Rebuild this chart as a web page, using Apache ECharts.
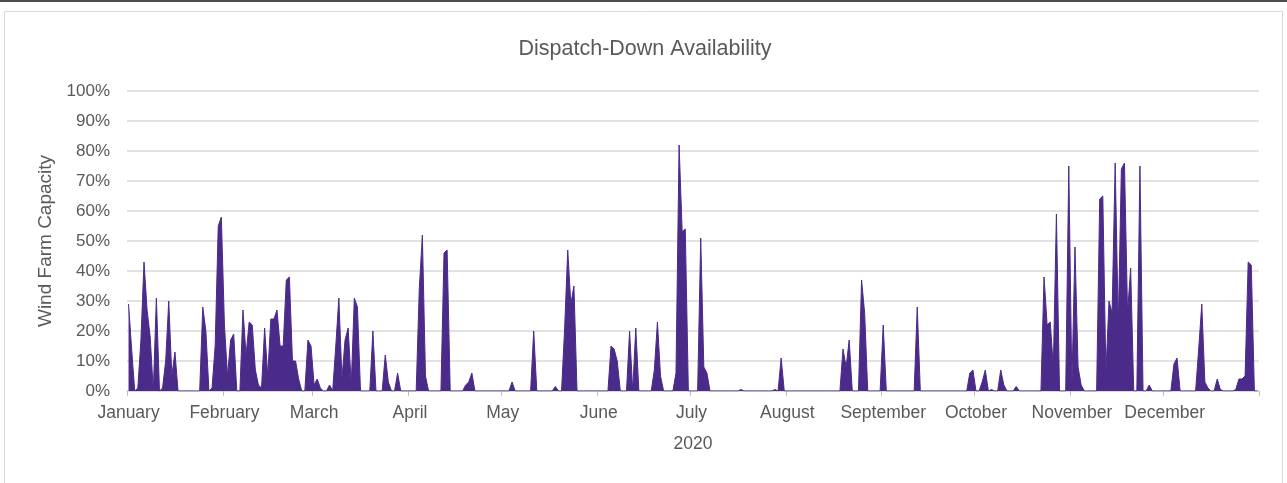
<!DOCTYPE html>
<html>
<head>
<meta charset="utf-8">
<title>Dispatch-Down Availability</title>
<script src="https://cdn.jsdelivr.net/npm/echarts@6/dist/echarts.min.js"></script>
<style>
  html, body { margin: 0; padding: 0; background: #fff; }
  #chart { width: 1287px; height: 483px; }
</style>
</head>
<body>
<div id="chart"></div>
<script>
// daily dispatch-down, % of wind farm capacity, 2020
const monthNames = ['January', 'February', 'March', 'April', 'May', 'June',
  'July', 'August', 'September', 'October', 'November', 'December'];

const jan = [29, 14, 0, 1, 17, 43, 27, 18, 0, 31, 0, 1, 10, 30, 5, 13, 0, 0, 0, 0, 0, 0, 0, 0, 28, 20, 0, 1, 15, 55, 58];
const feb = [22, 5, 17, 19, 0, 0, 27, 12, 23, 22, 7, 2, 1, 21, 5, 24, 24, 27, 15, 15, 37, 38, 10, 10, 4, 0, 0, 17, 15];
const mar = [2, 4, 1, 0, 0, 2, 0, 15, 31, 4, 17, 21, 2, 31, 28, 0, 0, 0, 0, 20, 0, 0, 0, 12, 3, 0, 0, 6, 0, 0, 0];
const apr = [0, 0, 0, 34, 52, 5, 0, 0, 0, 0, 0, 46, 47, 0, 0, 0, 0, 0, 2, 3, 6, 0, 0, 0, 0, 0, 0, 0, 0, 0];
const may = [0, 0, 0, 3, 0, 0, 0, 0, 0, 0, 20, 0, 0, 0, 0, 0, 0, 1.5, 0, 0, 21, 47, 29, 35, 0, 0, 0, 0, 0, 0, 0];
const jun = [0, 0, 0, 0, 15, 14, 10, 0, 0, 0, 20, 0, 21, 0, 0, 0, 0, 0, 7, 23, 5, 0, 0, 0, 0, 6, 82, 53, 54, 0];
const jul = [0, 0, 0, 51, 8, 6, 0, 0, 0, 0, 0, 0, 0, 0, 0, 0, 0.5, 0, 0, 0, 0, 0, 0, 0, 0, 0, 0, 0.5, 0, 11, 0];
const aug = [0, 0, 0, 0, 0, 0, 0, 0, 0, 0, 0, 0, 0, 0, 0, 0, 0, 0, 14, 8, 17, 0, 0, 0, 37, 26, 0, 0, 0, 0, 0];
const sep = [22, 0, 0, 0, 0, 0, 0, 0, 0, 0, 0, 28, 0, 0, 0, 0, 0, 0, 0, 0, 0, 0, 0, 0, 0, 0, 0, 0, 6, 7];
const oct = [0, 0, 3, 7, 0, 0.5, 0, 0, 7, 2, 0, 0, 0, 1.5, 0, 0, 0, 0, 0, 0, 0, 0, 38, 22, 23, 8, 59, 0, 0, 0, 75];
const nov = [2, 48, 8, 2, 0, 0, 0, 0, 0, 64, 65, 6, 30, 26, 76, 22, 74, 76, 26, 41, 0, 0, 75, 0, 0, 2, 0, 0, 0, 0];
const dec = [0, 0, 0, 9, 11, 0, 0, 0, 0, 0, 0, 14, 29, 3, 1, 0, 0, 4, 0.5, 0, 0, 0, 0, 0.5, 4, 4, 5, 43, 42, 0, 0];

const yTicks = [0, 10, 20, 30, 40, 50, 60, 70, 80, 90, 100];

const months = [jan, feb, mar, apr, may, jun, jul, aug, sep, oct, nov, dec];
const dates = [];
const values = [];
months.forEach((m, mi) => {
  m.forEach((v, di) => {
    const mm = String(mi + 1).padStart(2, '0');
    const dd = String(di + 1).padStart(2, '0');
    dates.push('2020-' + mm + '-' + dd);
    values.push(v);
  });
});

const isMonthStart = (idx, val) => val.slice(8) === '01';

const font = 'Liberation Sans, Arial, sans-serif';
const purple = '#4b2b89';

const myChart = echarts.init(document.getElementById('chart'));

const option = {
  animation: false,
  title: {
    text: 'Dispatch-Down Availability',
    left: 640,
    textAlign: 'center',
    top: 33,
    textStyle: { fontFamily: font, fontSize: 21.5, fontWeight: 'normal', color: '#595959' },
  },
  graphic: [
    {
      type: 'rect',
      shape: { x: 4.5, y: 11.5, width: 1278, height: 480 },
      style: { fill: 'none', stroke: '#d9d9d9', lineWidth: 1 },
      silent: true,
    },
    {
      type: 'line',
      shape: { x1: 0, y1: 1, x2: 1287, y2: 1 },
      style: { stroke: '#4d4d4d', lineWidth: 2 },
      silent: true,
    },
  ],
  grid: { left: 127, right: 28, top: 91, bottom: 92 },
  xAxis: {
    type: 'category',
    data: dates,
    boundaryGap: true,
    name: '2020',
    nameLocation: 'middle',
    nameGap: 44,
    nameTextStyle: { fontFamily: font, fontSize: 17.5, color: '#595959' },
    axisLine: { lineStyle: { color: '#d9d9d9', width: 1.5 } },
    axisTick: { show: true, interval: isMonthStart, length: 5, lineStyle: { color: '#bfbfbf' } },
    axisLabel: {
      interval: isMonthStart,
      margin: 13,
      fontFamily: font,
      fontSize: 17.5,
      color: '#595959',
      formatter: (val) => monthNames[parseInt(val.slice(5, 7), 10) - 1],
    },
    splitLine: { show: false },
  },
  yAxis: {
    type: 'value',
    min: yTicks[0],
    max: yTicks[yTicks.length - 1],
    interval: yTicks[1] - yTicks[0],
    name: 'Wind Farm Capacity',
    nameLocation: 'middle',
    nameGap: 69,
    nameTextStyle: { fontFamily: font, fontSize: 19, color: '#595959' },
    axisLine: { show: false },
    axisTick: { show: false },
    axisLabel: { margin: 17, fontFamily: font, fontSize: 17, color: '#595959', formatter: '{value}%' },
    splitLine: { lineStyle: { color: '#d9d9d9', width: 1.5 } },
  },
  series: [
    {
      type: 'line',
      data: values,
      symbol: 'none',
      smooth: false,
      lineStyle: { color: purple, width: 1 },
      itemStyle: { color: purple },
      areaStyle: { color: purple, opacity: 1 },
    },
  ],
};

myChart.setOption(option);
</script>
</body>
</html>
